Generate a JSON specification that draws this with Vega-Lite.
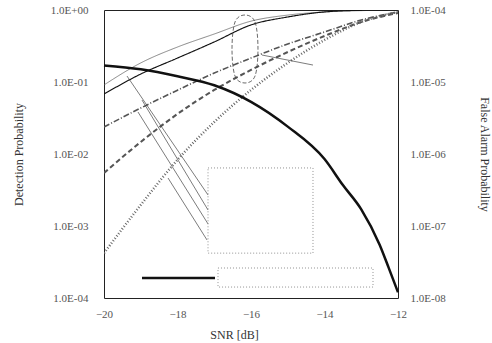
{
  "$schema": "https://vega.github.io/schema/vega-lite/v6.json",
  "width": 294,
  "height": 288,
  "autosize": {"type": "none"},
  "padding": {"left": 104, "top": 10, "right": 94, "bottom": 45},
  "background": "white",
  "config": {
    "view": {"stroke": "#222", "strokeWidth": 1},
    "font": "Liberation Serif",
    "axis": {
      "grid": false, "ticks": false, "domain": false,
      "labelFont": "Liberation Serif", "titleFont": "Liberation Serif",
      "labelColor": "#555", "titleColor": "#333", "titleFontWeight": "normal",
      "labelFontSize": 11, "titleFontSize": 12
    }
  },
  "datasets": {
    "det": [
      {"snr": -20, "curve": "A", "pd": 0.091}, {"snr": -19, "curve": "A", "pd": 0.184}, {"snr": -18, "curve": "A", "pd": 0.306},
      {"snr": -17, "curve": "A", "pd": 0.464}, {"snr": -16, "curve": "A", "pd": 0.70}, {"snr": -15, "curve": "A", "pd": 0.85},
      {"snr": -14, "curve": "A", "pd": 0.94}, {"snr": -13, "curve": "A", "pd": 0.98}, {"snr": -12, "curve": "A", "pd": 1.0},
      {"snr": -20, "curve": "B", "pd": 0.068}, {"snr": -19, "curve": "B", "pd": 0.129}, {"snr": -18, "curve": "B", "pd": 0.215},
      {"snr": -17, "curve": "B", "pd": 0.36}, {"snr": -16, "curve": "B", "pd": 0.62}, {"snr": -15, "curve": "B", "pd": 0.80},
      {"snr": -14, "curve": "B", "pd": 0.94}, {"snr": -13, "curve": "B", "pd": 0.99}, {"snr": -12, "curve": "B", "pd": 1.0},
      {"snr": -20, "curve": "C", "pd": 0.0237}, {"snr": -19, "curve": "C", "pd": 0.0435}, {"snr": -18, "curve": "C", "pd": 0.077},
      {"snr": -17, "curve": "C", "pd": 0.133}, {"snr": -16, "curve": "C", "pd": 0.215}, {"snr": -15, "curve": "C", "pd": 0.337},
      {"snr": -14, "curve": "C", "pd": 0.495}, {"snr": -13, "curve": "C", "pd": 0.726}, {"snr": -12, "curve": "C", "pd": 0.94},
      {"snr": -20, "curve": "D", "pd": 0.00545}, {"snr": -19, "curve": "D", "pd": 0.0147}, {"snr": -18, "curve": "D", "pd": 0.036},
      {"snr": -17, "curve": "D", "pd": 0.0775}, {"snr": -16, "curve": "D", "pd": 0.147}, {"snr": -15, "curve": "D", "pd": 0.261},
      {"snr": -14, "curve": "D", "pd": 0.435}, {"snr": -13, "curve": "D", "pd": 0.68}, {"snr": -12, "curve": "D", "pd": 0.91},
      {"snr": -20, "curve": "E", "pd": 0.00042}, {"snr": -19, "curve": "E", "pd": 0.00196}, {"snr": -18, "curve": "E", "pd": 0.0083},
      {"snr": -17, "curve": "E", "pd": 0.0278}, {"snr": -16, "curve": "E", "pd": 0.0775}, {"snr": -15, "curve": "E", "pd": 0.184},
      {"snr": -14, "curve": "E", "pd": 0.383}, {"snr": -13, "curve": "E", "pd": 0.68}, {"snr": -12, "curve": "E", "pd": 0.94}
    ],
    "fa": [
      {"snr": -20, "pfa": 1.7e-5}, {"snr": -19, "pfa": 1.5e-5}, {"snr": -18, "pfa": 1.2e-5},
      {"snr": -17, "pfa": 9e-6}, {"snr": -16, "pfa": 5.3e-6}, {"snr": -15, "pfa": 2.4e-6},
      {"snr": -14, "pfa": 8.5e-7}, {"snr": -13.5, "pfa": 3.7e-7}, {"snr": -13, "pfa": 1.7e-7},
      {"snr": -12.5, "pfa": 5.5e-8}, {"snr": -12.25, "pfa": 2.6e-8}, {"snr": -12, "pfa": 1.2e-8}
    ],
    "ellipse": [
      {"i": 0, "snr": -16.163, "pd": 0.852}, {"i": 1, "snr": -15.891, "pd": 0.681},
      {"i": 2, "snr": -15.810, "pd": 0.287}, {"i": 3, "snr": -15.891, "pd": 0.121},
      {"i": 4, "snr": -16.163, "pd": 0.0969}, {"i": 5, "snr": -16.435, "pd": 0.121},
      {"i": 6, "snr": -16.517, "pd": 0.287}, {"i": 7, "snr": -16.435, "pd": 0.681}
    ],
    "leaders": [
      {"x1": -19.374, "y1": 0.121, "x2": -17.170, "y2": 0.0027},
      {"x1": -18.966, "y1": 0.0562, "x2": -17.170, "y2": 0.00167},
      {"x1": -19.075, "y1": 0.0383, "x2": -17.170, "y2": 0.00107},
      {"x1": -18.258, "y1": 0.00464, "x2": -17.197, "y2": 0.00064},
      {"x1": -15.701, "y1": 0.237, "x2": -14.313, "y2": 0.172}
    ],
    "boxes": [
      {"x1": -17.170, "x2": -14.313, "y1": 0.0064, "y2": 0.00042},
      {"x1": -16.898, "x2": -12.680, "y1": 0.000261, "y2": 0.000142}
    ],
    "legline": [
      {"x1": -18.966, "x2": -16.980, "y1": 0.00019}
    ]
  },
  "layer": [
    {
      "data": {"name": "det"},
      "mark": {"type": "line", "interpolate": "monotone", "clip": true},
      "encoding": {
        "x": {
          "field": "snr", "type": "quantitative",
          "scale": {"domain": [-20, -12], "nice": false},
          "axis": {"title": "SNR [dB]", "values": [-20, -18, -16, -14, -12], "format": "d", "labelFlush": false, "labelPadding": 10, "titlePadding": 10, "titleX": 130}
        },
        "y": {
          "field": "pd", "type": "quantitative",
          "scale": {"type": "log", "domain": [0.0001, 1]},
          "axis": {
            "title": "Detection Probability", "orient": "left",
            "values": [0.0001, 0.001, 0.01, 0.1, 1],
            "labelExpr": "'1.0E' + (round(log(datum.value)/LN10) >= 0 ? '+' : '-') + '0' + abs(round(log(datum.value)/LN10))",
            "labelPadding": 16, "titlePadding": 25
          }
        },
        "detail": {"field": "curve"},
        "color": {"field": "curve", "type": "nominal", "legend": null, "scale": {"domain": ["A", "B", "C", "D", "E"], "range": ["#555", "#111", "#555", "#555", "#666"]}},
        "strokeWidth": {"field": "curve", "type": "nominal", "legend": null, "scale": {"domain": ["A", "B", "C", "D", "E"], "range": [0.7, 2.5, 0.7, 0.7, 0.8]}},
        "strokeDash": {"field": "curve", "type": "nominal", "legend": null, "scale": {"domain": ["A", "B", "C", "D", "E"], "range": [[1, 0], [1, 0], [6, 2, 1, 2], [5, 3], [1, 2]]}}
      }
    },
    {
      "data": {"name": "fa"},
      "mark": {"type": "line", "interpolate": "monotone", "stroke": "#111", "strokeWidth": 2.5},
      "encoding": {
        "x": {"field": "snr", "type": "quantitative"},
        "y": {
          "field": "pfa", "type": "quantitative",
          "scale": {"type": "log", "domain": [1e-8, 0.0001]},
          "axis": {
            "title": "False Alarm Probability", "orient": "right",
            "values": [1e-8, 1e-7, 1e-6, 1e-5, 0.0001],
            "labelExpr": "'1.0E' + (round(log(datum.value)/LN10) >= 0 ? '+' : '-') + '0' + abs(round(log(datum.value)/LN10))",
            "labelPadding": 12, "titlePadding": 32
          }
        }
      }
    },
    {
      "data": {"name": "boxes"},
      "mark": {"type": "rect", "fill": null, "stroke": "#777", "strokeWidth": 0.8, "strokeDash": [1, 2]},
      "encoding": {
        "x": {"field": "x1", "type": "quantitative"},
        "x2": {"field": "x2"},
        "y": {"field": "y1", "type": "quantitative", "scale": {"type": "log", "domain": [0.0001, 1]}, "axis": null},
        "y2": {"field": "y2"}
      }
    },
    {
      "data": {"name": "leaders"},
      "mark": {"type": "rule", "stroke": "#444", "strokeWidth": 0.7},
      "encoding": {
        "x": {"field": "x1", "type": "quantitative"},
        "x2": {"field": "x2"},
        "y": {"field": "y1", "type": "quantitative", "scale": {"type": "log", "domain": [0.0001, 1]}, "axis": null},
        "y2": {"field": "y2"}
      }
    },
    {
      "data": {"name": "legline"},
      "mark": {"type": "rule", "stroke": "#111", "strokeWidth": 2.5},
      "encoding": {
        "x": {"field": "x1", "type": "quantitative"},
        "x2": {"field": "x2"},
        "y": {"field": "y1", "type": "quantitative", "scale": {"type": "log", "domain": [0.0001, 1]}, "axis": null}
      }
    },
    {
      "data": {"name": "ellipse"},
      "mark": {"type": "line", "interpolate": "cardinal-closed", "stroke": "#444", "strokeWidth": 0.8, "strokeDash": [4, 2]},
      "encoding": {
        "x": {"field": "snr", "type": "quantitative"},
        "y": {"field": "pd", "type": "quantitative", "scale": {"type": "log", "domain": [0.0001, 1]}, "axis": null},
        "order": {"field": "i"}
      }
    }
  ],
  "resolve": {"scale": {"y": "independent"}}
}
